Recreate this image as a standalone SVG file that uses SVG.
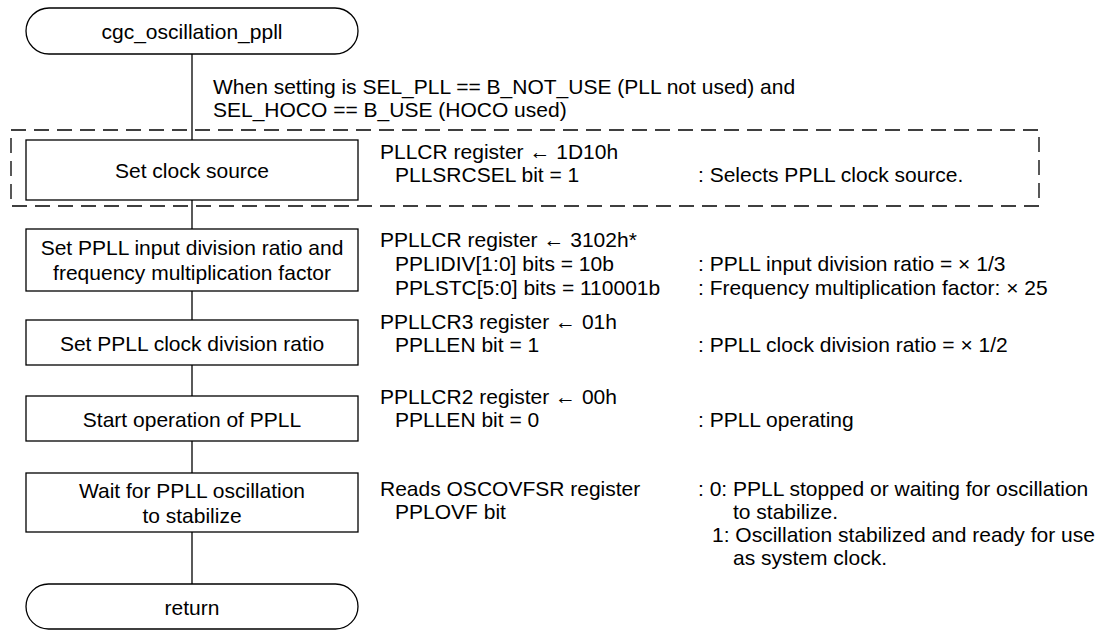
<svg xmlns="http://www.w3.org/2000/svg" width="1104" height="630" viewBox="0 0 1104 630">
<style>
.n{fill:#fff;stroke:#000;stroke-width:1.3}
.c{stroke:#000;stroke-width:1.3;fill:none}
.d{stroke:#000;stroke-width:1.3;fill:none;stroke-dasharray:15 8}
text{font-family:"Liberation Sans",Arial,sans-serif;font-size:21px;fill:#000}
.m{text-anchor:middle;dominant-baseline:central}
</style>
<rect width="1104" height="630" fill="#fff"/>
<rect class="d" x="11" y="130" width="1028" height="76"/>
<g id="connectors">
<line class="c" x1="192" y1="54" x2="192" y2="140"/>
<line class="c" x1="192" y1="200" x2="192" y2="229"/>
<line class="c" x1="192" y1="291" x2="192" y2="320"/>
<line class="c" x1="192" y1="365" x2="192" y2="396"/>
<line class="c" x1="192" y1="441" x2="192" y2="473"/>
<line class="c" x1="192" y1="532" x2="192" y2="584"/>
</g>
<g id="start">
<rect class="n" x="26" y="8" width="332" height="46" rx="23"/>
<text class="m" x="192" y="31">cgc_oscillation_ppll</text>
</g>
<g id="cond">
<text x="213" y="94">When setting is SEL_PLL == B_NOT_USE (PLL not used) and</text>
<text x="213" y="117">SEL_HOCO == B_USE (HOCO used)</text>
</g>
<g id="n1">
<rect class="n" x="26" y="140" width="332" height="60"/>
<text class="m" x="192" y="170">Set clock source</text>
</g>
<g id="n2">
<rect class="n" x="26" y="229" width="332" height="62"/>
<text class="m" x="192" y="247">Set PPLL input division ratio and</text>
<text class="m" x="192" y="272">frequency multiplication factor</text>
</g>
<g id="n3">
<rect class="n" x="26" y="320" width="332" height="45"/>
<text class="m" x="192" y="343">Set PPLL clock division ratio</text>
</g>
<g id="n4">
<rect class="n" x="26" y="396" width="332" height="45"/>
<text class="m" x="192" y="419">Start operation of PPLL</text>
</g>
<g id="n5">
<rect class="n" x="26" y="473" width="332" height="59"/>
<text class="m" x="192" y="490">Wait for PPLL oscillation</text>
<text class="m" x="192" y="515">to stabilize</text>
</g>
<g id="end">
<rect class="n" x="26" y="584" width="332" height="45" rx="22.5"/>
<text class="m" x="192" y="607">return</text>
</g>
<g id="notes">
<text x="380" y="159">PLLCR register ← 1D10h</text>
<text x="395" y="182">PLLSRCSEL bit = 1</text>
<text x="698" y="182">: Selects PPLL clock source.</text>
<text x="380" y="247">PPLLCR register ← 3102h*</text>
<text x="395" y="271">PPLIDIV[1:0] bits = 10b</text>
<text x="698" y="271">: PPLL input division ratio = × 1/3</text>
<text x="395" y="295">PPLSTC[5:0] bits = 110001b</text>
<text x="698" y="295">: Frequency multiplication factor: × 25</text>
<text x="380" y="329">PPLLCR3 register ← 01h</text>
<text x="395" y="352">PPLLEN bit = 1</text>
<text x="698" y="352">: PPLL clock division ratio = × 1/2</text>
<text x="380" y="404">PPLLCR2 register ← 00h</text>
<text x="395" y="427">PPLLEN bit = 0</text>
<text x="698" y="427">: PPLL operating</text>
<text x="380" y="496">Reads OSCOVFSR register</text>
<text x="698" y="496">: 0: PPLL stopped or waiting for oscillation</text>
<text x="395" y="519">PPLOVF bit</text>
<text x="733" y="519">to stabilize.</text>
<text x="712" y="542">1: Oscillation stabilized and ready for use</text>
<text x="733" y="565">as system clock.</text>
</g>
</svg>
